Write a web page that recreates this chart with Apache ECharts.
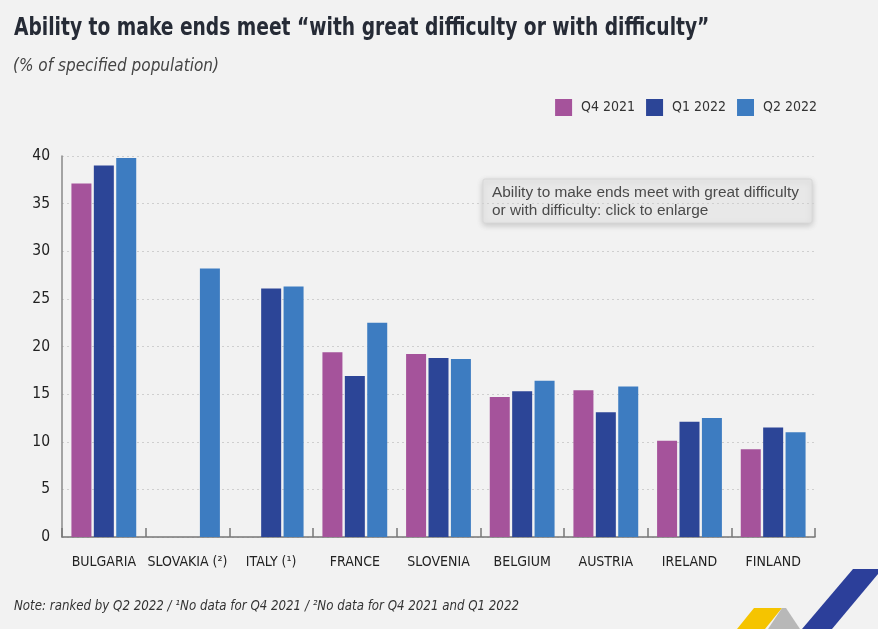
<!DOCTYPE html>
<html>
<head>
<meta charset="utf-8">
<script src="https://cdn.jsdelivr.net/npm/echarts@6/dist/echarts.min.js"></script>
<style>
html,body{margin:0;padding:0;background:#f2f2f2;}
#chart{width:878px;height:629px;}
</style>
</head>
<body>
<div id="chart"></div>
<script>
const categories = ['BULGARIA','SLOVAKIA (²)','ITALY (¹)','FRANCE','SLOVENIA','BELGIUM','AUSTRIA','IRELAND','FINLAND'];
const seriesNames = ['Q4 2021','Q1 2022','Q2 2022'];
const q4_2021 = [37.1, null, null, 19.4, 19.2, 14.7, 15.4, 10.1, 9.2];
const q1_2022 = [39.0, null, 26.1, 16.9, 18.8, 15.3, 13.1, 12.1, 11.5];
const q2_2022 = [39.8, 28.2, 26.3, 22.5, 18.7, 16.4, 15.8, 12.5, 11.0];
const yTicks = [0,5,10,15,20,25,30,35,40];

const titleText = 'Ability to make ends meet “with great difficulty or with difficulty”';
const subtitleText = '(% of specified population)';
const noteText = 'Note: ranked by Q2 2022 / ¹No data for Q4 2021 / ²No data for Q4 2021 and Q1 2022';
const tipText = 'Ability to make ends meet with great difficulty\nor with difficulty: click to enlarge';

const COND = "'Liberation Sans Narrow','DejaVu Sans Condensed','Roboto Condensed',sans-serif";
const colors = ['#a5539b','#2c4597','#3d7cc1'];

const chart = echarts.init(document.getElementById('chart'));
chart.setOption({
  backgroundColor:'#f2f2f2',
  animation:false,
  color: colors,
  legend:{
    data: seriesNames, right:56, top:94, itemWidth:17, itemHeight:17, itemGap:11,
    icon:'rect',
    textStyle:{fontFamily:COND, fontSize:14, color:'#333', padding:[0,0,0,4]}
  },
  grid:{left:62, right:63, top:156, bottom:92, containLabel:false},
  xAxis:{
    type:'category', data:categories,
    axisLine:{lineStyle:{color:'#777', width:1.5}},
    axisTick:{show:true, inside:true, length:9, lineStyle:{color:'#777', width:1.5}},
    axisLabel:{fontFamily:COND, fontSize:14, color:'#222', margin:18, interval:0}
  },
  yAxis:{
    type:'value', min:0, max:40, interval:5,
    axisLine:{show:true, lineStyle:{color:'#888', width:1.5}},
    axisTick:{show:false},
    axisLabel:{fontFamily:COND, fontSize:15.5, color:'#222', margin:12,
      formatter: v => yTicks.includes(v) ? String(v) : ''},
    splitLine:{show:true, lineStyle:{color:'#cfcfcf', type:[2,3], width:1}}
  },
  series:[
    {name:seriesNames[0], type:'bar', data:q4_2021, barWidth:20, barGap:'12%'},
    {name:seriesNames[1], type:'bar', data:q1_2022, barWidth:20, barGap:'12%'},
    {name:seriesNames[2], type:'bar', data:q2_2022, barWidth:20, barGap:'12%'}
  ],
  graphic:[
    {type:'text', x:14, y:16, scaleX:0.83,
     style:{text:titleText, font:"bold 25px "+COND, fill:'#262b36', align:'left', verticalAlign:'top'}},
    {type:'text', x:13, y:58,
     style:{text:subtitleText, font:"italic 17px "+COND, fill:'#444', align:'left', verticalAlign:'top'}},
    {type:'text', x:14, y:599, scaleX:0.94,
     style:{text:noteText, font:"italic 14px "+COND, fill:'#333', align:'left', verticalAlign:'top'}},
    {type:'rect', shape:{x:483, y:179, width:329, height:44, r:2},
     style:{fill:'#e8e8e8', stroke:'#d8d8d8', lineWidth:1, shadowBlur:6, shadowColor:'rgba(0,0,0,0.18)', shadowOffsetY:2}},
    {type:'text', x:492, y:184, scaleX:1.1,
     style:{text:tipText, font:"14px 'Liberation Sans',Arial,sans-serif", fill:'#4a4a4a', lineHeight:18, align:'left', verticalAlign:'top'}},
    {type:'polygon', shape:{points:[[853,569],[878,569],[878,574],[832,629],[802,629]]}, style:{fill:'#2c3f9a'}},
    {type:'polygon', shape:{points:[[754,608],[782,608],[765,629],[737,629]]}, style:{fill:'#f5c400'}},
    {type:'polygon', shape:{points:[[782,608],[786,608],[800,629],[768,629]]}, style:{fill:'#b8b8b8'}}
  ]
});
</script>
</body>
</html>
